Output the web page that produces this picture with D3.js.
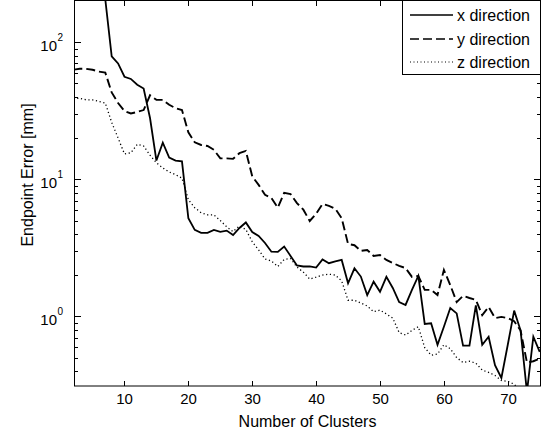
<!DOCTYPE html>
<meta charset="utf-8">
<head>
  <title>Endpoint error vs number of clusters</title>
</head>

<style>
body {
    margin: 0;
    background: #fff;
}
text {
    font-family: Arial, "Liberation Sans", sans-serif;
    fill: #000;
}
.frame {
    fill: none;
    stroke: #000;
    stroke-width: 1;
}
.tick {
    stroke: #000;
    stroke-width: 1;
}
</style>

<body>
  <svg width="544" height="439"></svg>

  <script src="https://cdnjs.cloudflare.com/ajax/libs/d3/7.8.5/d3.min.js"></script>
  <script>

// number of clusters (x values)
    var clusters = [2, 3, 4, 5, 6, 7, 8, 9, 10, 11, 12, 13, 14, 15, 16, 17, 18, 19, 20,
        21, 22, 23, 24, 25, 26, 27, 28, 29, 30, 31, 32, 33, 34, 35, 36, 37, 38, 39, 40,
        41, 42, 43, 44, 45, 46, 47, 48, 49, 50, 51, 52, 53, 54, 55, 56, 57, 58, 59, 60,
        61, 62, 63, 64, 65, 66, 67, 68, 69, 70, 71, 72, 73, 74, 75];

// endpoint error [mm]
    var xError = [900, 750, 600, 450, 320, 205, 79, 70, 56, 54, 49, 46, 28, 13.7, 18.5, 14.4, 13.7, 13.5, 5.2,
        4.27, 4.06, 4.06, 4.27, 4.13, 4.22, 3.92, 4.41, 4.84, 4.12, 3.86, 3.43, 2.96, 2.95, 3.23, 2.76, 2.35, 2.31, 2.31, 2.27,
        2.6, 2.44, 2.52, 2.58, 1.74, 2.24, 1.95, 1.43, 1.79, 1.51, 1.94, 1.61, 1.27, 1.21, 1.56, 1.97, 0.88, 0.89, 0.62, 0.84,
        1.15, 1.05, 0.61, 0.61, 1.2, 0.62, 0.71, 0.44, 0.355, 0.62, 1.1, 0.79, 0.28, 0.71, 0.55];

    var yError = [63, 64, 64, 63, 61, 60, 43, 36, 31.5, 30.2, 31, 32, 41, 38, 38, 35, 33, 32, 22,
        18.6, 17.8, 17.5, 16.4, 14.2, 14.2, 14.1, 15.5, 16.1, 10.5, 9.1, 7.7, 7.3, 6.2, 7.95, 7.8, 6.7, 6.0, 4.96, 5.6,
        6.6, 6.4, 6.1, 5.2, 3.37, 3.3, 3.0, 3.05, 2.76, 2.8, 2.58, 2.45, 2.33, 2.25, 1.94, 1.97, 1.56, 1.56, 1.43, 2.18,
        1.69, 1.27, 1.41, 1.36, 1.32, 1.02, 1.17, 0.97, 0.99, 0.97, 0.92, 0.79, 0.46, 0.47, 0.49];

    var zError = [39, 39, 38, 38, 37, 36, 26, 20, 15.3, 15.6, 18, 17.5, 15, 13.2, 12.1, 11.3, 10.8, 10.2, 7.1,
        6.2, 5.7, 5.5, 5.5, 5.0, 4.5, 4.15, 4.56, 4.3, 3.5, 3.05, 2.62, 2.53, 2.31, 2.6, 2.64, 2.29, 2.1, 1.87, 1.93,
        2.0, 2.03, 2.0, 1.81, 1.31, 1.31, 1.25, 1.19, 1.08, 1.11, 1.04, 0.97, 0.76, 0.73, 0.79, 0.84, 0.59, 0.52, 0.53, 0.62,
        0.58, 0.5, 0.46, 0.47, 0.455, 0.405, 0.39, 0.37, 0.34, 0.335, 0.32, 0.28, 0.26, 0.27, 0.27];

    var seriesNames = ["x direction", "y direction", "z direction"];
    var xTicks = [10, 20, 30, 40, 50, 60, 70];
    var yMajorTicks = [1, 10, 100];
    var yMinorTicks = [0.4, 0.5, 0.6, 0.7, 0.8, 0.9, 2, 3, 4, 5, 6, 7, 8, 9,
        20, 30, 40, 50, 60, 70, 80, 90];

    // plot box (note: "top" is a reserved window property, so use other names)
    var plotL = 74, plotR = 541, plotT = 1, plotB = 386;

    var x = d3.scaleLinear().domain([2.1, 75.2]).range([plotL, plotR]);
    var y = d3.scaleLog().domain([0.31, 200]).range([plotB, plotT]);

    var svg = d3.select("svg");

    svg.append("clipPath").attr("id", "plot-clip")
        .append("rect")
        .attr("x", plotL).attr("y", plotT)
        .attr("width", plotR - plotL).attr("height", plotB - plotT);

    var styles = [
        {dash: null, width: 1.8},
        {dash: "9,4", width: 1.9},
        {dash: "1.2,2.6", width: 1.3}
    ];
    var allSeries = [xError, yError, zError];

    var line = d3.line()
        .x((d, i) => x(clusters[i]))
        .y(d => y(d));

    var lines = svg.append("g").attr("clip-path", "url(#plot-clip)");
    allSeries.forEach(function(s, k) {
        lines.append("path")
            .datum(s)
            .attr("d", line)
            .attr("fill", "none")
            .attr("stroke", "#000")
            .attr("stroke-width", styles[k].width)
            .attr("stroke-dasharray", styles[k].dash)
            .attr("stroke-linejoin", "miter");
    });

    // ticks, inward on all four sides
    var ticks = svg.append("g");
    xTicks.forEach(function(t) {
        var px = Math.round(x(t)) + 0.5;
        ticks.append("line").attr("class", "tick")
            .attr("x1", px).attr("x2", px).attr("y1", plotB).attr("y2", plotB - 5);
        ticks.append("line").attr("class", "tick")
            .attr("x1", px).attr("x2", px).attr("y1", plotT).attr("y2", plotT + 5);
        ticks.append("text")
            .attr("x", px).attr("y", 404)
            .attr("text-anchor", "middle")
            .style("font-size", "15px")
            .text(t);
    });

    function yTick(t, len) {
        var py = Math.round(y(t)) + 0.5;
        ticks.append("line").attr("class", "tick")
            .attr("x1", plotL).attr("x2", plotL + len).attr("y1", py).attr("y2", py);
        ticks.append("line").attr("class", "tick")
            .attr("x1", plotR).attr("x2", plotR - len).attr("y1", py).attr("y2", py);
        return py;
    }
    yMinorTicks.forEach(t => yTick(t, 4));
    yMajorTicks.forEach(function(t) {
        var py = yTick(t, 7);
        ticks.append("text")
            .attr("x", 57).attr("y", py + 8)
            .attr("text-anchor", "end")
            .style("font-size", "15px")
            .text("10");
        ticks.append("text")
            .attr("x", 57.5).attr("y", py - 2)
            .style("font-size", "10px")
            .text(Math.round(Math.log10(t)));
    });

    svg.append("rect").attr("class", "frame")
        .attr("x", plotL + 0.5).attr("y", plotT - 0.5)
        .attr("width", plotR - plotL - 1).attr("height", plotB - plotT + 0.5);

    // axis labels
    svg.append("text")
        .attr("x", (plotL + plotR) / 2).attr("y", 427)
        .attr("text-anchor", "middle")
        .style("font-size", "16px")
        .text("Number of Clusters");

    svg.append("text")
        .attr("transform", "translate(33,175) rotate(-90)")
        .attr("text-anchor", "middle")
        .style("font-size", "16px")
        .text("Endpoint Error [mm]");

    // legend
    var legend = svg.append("g");
    legend.append("rect")
        .attr("x", 402.5).attr("y", 0.5)
        .attr("width", 138).attr("height", 74)
        .attr("fill", "#fff").attr("stroke", "#000");
    seriesNames.forEach(function(name, k) {
        var ry = [15, 39, 62][k];
        legend.append("line")
            .attr("x1", 410).attr("x2", 453).attr("y1", ry).attr("y2", ry)
            .attr("stroke", "#000")
            .attr("stroke-width", k == 2 ? 1 : 1.5)
            .attr("stroke-dasharray", k == 0 ? null : (k == 1 ? "9,4" : "1,2.5"));
        legend.append("text")
            .attr("x", 457).attr("y", ry + 6)
            .style("font-size", "16px")
            .text(name);
    });

  </script>
</body>
</html>
